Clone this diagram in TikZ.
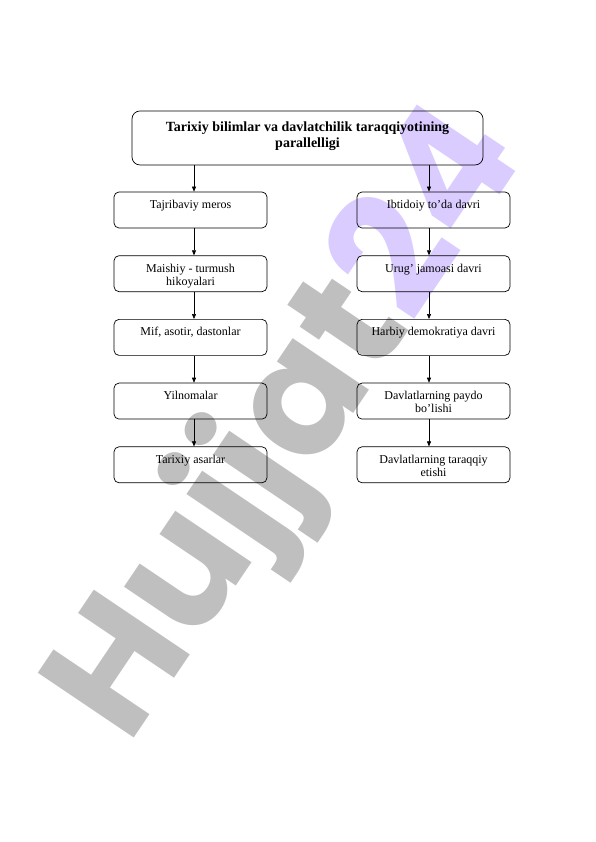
\documentclass[tikz,border=0pt]{standalone}
\usepackage{fontspec}
\setmainfont{Liberation Serif}
\newfontfamily\wmfont{Poppins}
\usetikzlibrary{positioning,arrows.meta}

\definecolor{wmgray}{RGB}{191,191,191}
\definecolor{wmviolet}{RGB}{218,204,255}

\newcommand{\boxtxt}[1]{\parbox[c][28pt][t]{140pt}{\centering\rule{0pt}{12.5pt}#1}}
\newcommand{\titletxt}[1]{\parbox[c][46pt][t]{339pt}{\centering\rule{0pt}{17pt}#1}}

\begin{document}
\begin{tikzpicture}[
  x=1pt, y=1pt,
  font=\fontsize{12}{13}\selectfont,
  box/.style={draw, rounded corners=5pt, inner xsep=6.5pt, inner ysep=4pt, line width=0.7pt},
  arr/.style={-{Triangle[length=5pt,width=4pt]}, line width=0.6pt}
]
\useasboundingbox (0,0) rectangle (596,842);

% watermark
\node[rotate=56, anchor=base west, inner sep=0pt, font=\wmfont\bfseries\fontsize{165}{165}\selectfont] (wm) at (128,95) {\textcolor{wmgray}{Hujjat}\textcolor{wmviolet}{24}};

\node[box, rounded corners=8pt, inner xsep=6pt, font=\bfseries\fontsize{14}{16}\selectfont] (title) at (307.5,704) {\titletxt{Tarixiy bilimlar va davlatchilik taraqqiyotining\\parallelligi}};

% left column
\node[box] (l1) at (190.5,632) {\boxtxt{Tajribaviy meros}};
\node[box, below=27pt of l1] (l2) {\boxtxt{Maishiy - turmush\\hikoyalari}};
\node[box, below=27pt of l2] (l3) {\boxtxt{Mif, asotir, dastonlar}};
\node[box, below=27pt of l3] (l4) {\boxtxt{Yilnomalar}};
\node[box, below=27pt of l4] (l5) {\boxtxt{Tarixiy asarlar}};

% right column
\node[box] (r1) at (433.5,632) {\boxtxt{Ibtidoiy to’da davri}};
\node[box, below=27pt of r1] (r2) {\boxtxt{Urug’ jamoasi davri}};
\node[box, below=27pt of r2] (r3) {\boxtxt{Harbiy demokratiya davri}};
\node[box, below=27pt of r3] (r4) {\boxtxt{Davlatlarning paydo\\bo’lishi}};
\node[box, below=27pt of r4] (r5) {\boxtxt{Davlatlarning taraqqiy\\etishi}};

\draw[arr] ([xshift=3.5pt]l1.north |- title.south) -- ([xshift=3.5pt]l1.north);
\draw[arr] ([xshift=-4.5pt]r1.north |- title.south) -- ([xshift=-4.5pt]r1.north);

\foreach \a/\b in {1/2,2/3,3/4,4/5} {
  \draw[arr] ([xshift=3.5pt]l\a.south) -- ([xshift=3.5pt]l\b.north);
  \draw[arr] ([xshift=-4.5pt]r\a.south) -- ([xshift=-4.5pt]r\b.north);
}

\end{tikzpicture}
\end{document}
